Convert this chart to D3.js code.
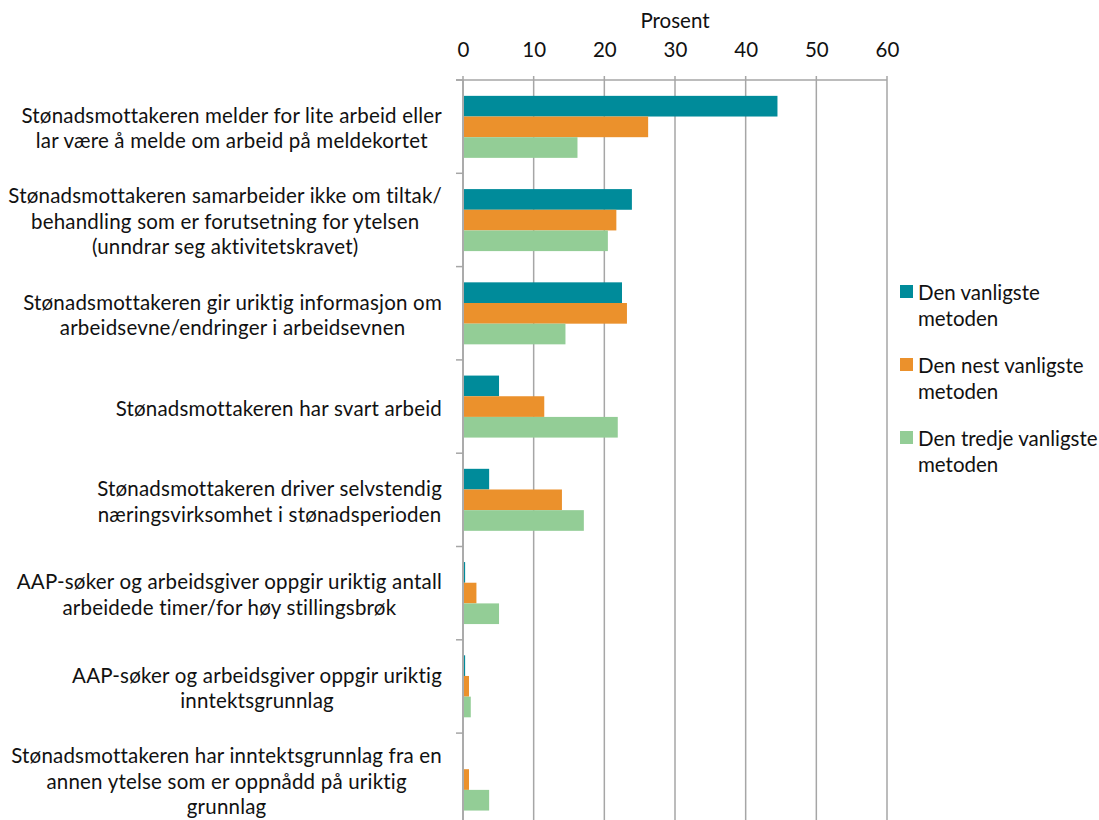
<!DOCTYPE html>
<html>
<head>
<meta charset="utf-8">
<script src="https://cdn.jsdelivr.net/npm/d3@7"></script>
<style>
  body { margin: 0; background: #fff; }
  svg text { font-family: Lato, "Open Sans", sans-serif; fill: #111; }
</style>
</head>
<body>
<svg id="chart" width="1099" height="820"></svg>
<script>
// categories, one line per array entry (as wrapped in the original)
var categories = [
  ["Stønadsmottakeren melder for lite arbeid eller", "lar være å melde om arbeid på meldekortet"],
  ["Stønadsmottakeren samarbeider ikke om tiltak/", "behandling som er forutsetning for ytelsen", "(unndrar seg aktivitetskravet)"],
  ["Stønadsmottakeren gir uriktig informasjon om", "arbeidsevne/endringer i arbeidsevnen"],
  ["Stønadsmottakeren har svart arbeid"],
  ["Stønadsmottakeren driver selvstendig", "næringsvirksomhet i stønadsperioden"],
  ["AAP-søker og arbeidsgiver oppgir uriktig antall", "arbeidede timer/for høy stillingsbrøk"],
  ["AAP-søker og arbeidsgiver oppgir uriktig", "inntektsgrunnlag"],
  ["Stønadsmottakeren har inntektsgrunnlag fra en", "annen ytelse som er oppnådd på uriktig", "grunnlag"]
];

var seriesNames = ["Den vanligste metoden", "Den nest vanligste metoden", "Den tredje vanligste metoden"];
var legendLines = [["Den vanligste", "metoden"], ["Den nest vanligste", "metoden"], ["Den tredje vanligste", "metoden"]];
var colors = ["#008B9A", "#EB912C", "#93CD96"];

var vanligste      = [44.5, 23.9, 22.5, 5.1, 3.7, 0.3, 0.3, 0.0];
var nestVanligste  = [26.2, 21.7, 23.2, 11.5, 14.0, 1.9, 0.85, 0.85];
var tredjeVanligste= [16.2, 20.5, 14.5, 21.9, 17.1, 5.1, 1.1, 3.7];

var xTicks = [0, 10, 20, 30, 40, 50, 60];

var series = [vanligste, nestVanligste, tredjeVanligste];

var svg = d3.select("#chart");
var plotL = 463, plotR = 887, plotT = 80, step = 93.3;
var fs = "20.5px";

var x = d3.scaleLinear().domain([0, 60]).range([plotL, plotR]);
var y = d3.scaleBand()
    .domain(d3.range(categories.length))
    .range([plotT, plotT + step * categories.length])
    .paddingInner(0.335)
    .paddingOuter(0.17);
var ySub = d3.scaleBand().domain(d3.range(series.length)).range([0, y.bandwidth()]);

// gridlines
svg.append("g")
  .selectAll("line")
  .data(xTicks)
  .enter().append("line")
  .attr("x1", d => x(d)).attr("x2", d => x(d))
  .attr("y1", plotT - 4).attr("y2", 820)
  .attr("stroke", "#a6a6a6").attr("stroke-width", 1.5);

// top axis
var xAxis = svg.append("g")
  .attr("transform", "translate(0," + plotT + ")")
  .call(d3.axisTop(x).tickValues(xTicks).tickSize(0).tickPadding(23));
xAxis.select(".domain").attr("stroke", "#a6a6a6").attr("stroke-width", 1.5)
  .attr("d", "M" + (plotL - 7) + ",0H" + plotR);
xAxis.selectAll("text").style("font-family", "Lato, sans-serif").style("font-size", fs).attr("fill", "#111");

svg.append("text")
  .attr("x", (plotL + plotR) / 2).attr("y", 28)
  .attr("text-anchor", "middle")
  .style("font-size", fs)
  .text("Prosent");

// left axis line and category ticks
svg.append("line")
  .attr("x1", plotL).attr("x2", plotL)
  .attr("y1", plotT).attr("y2", 820)
  .attr("stroke", "#a6a6a6").attr("stroke-width", 1.5);
svg.append("g")
  .selectAll("line")
  .data(d3.range(categories.length + 1))
  .enter().append("line")
  .attr("x1", plotL - 7).attr("x2", plotL)
  .attr("y1", i => plotT + i * step).attr("y2", i => plotT + i * step)
  .attr("stroke", "#a6a6a6").attr("stroke-width", 1.5);

// bars
series.forEach(function(vals, s) {
  svg.append("g")
    .selectAll("rect")
    .data(vals)
    .enter().append("rect")
    .attr("x", x(0) + 1)
    .attr("y", (d, i) => y(i) + ySub(s))
    .attr("width", d => Math.max(0, x(d) - x(0) - 1))
    .attr("height", ySub.bandwidth())
    .attr("fill", colors[s]);
});

// category labels: block right-aligned to the axis, lines centred within the block
var lineH = 25.5;
categories.forEach(function(lines, i) {
  var g = svg.append("g");
  var cy = plotT + i * step + step / 2;
  var texts = g.selectAll("text")
    .data(lines)
    .enter().append("text")
    .attr("text-anchor", "middle")
    .style("font-size", fs)
    .style("letter-spacing", "0.2px")
    .attr("y", (d, j) => cy + (j - (lines.length - 1) / 2) * lineH + 9)
    .text(d => d);
  var w = d3.max(texts.nodes(), n => n.getComputedTextLength());
  texts.attr("x", plotL - 21 - w / 2);
});

// legend
var legend = svg.append("g");
legendLines.forEach(function(lines, s) {
  var ly = 285 + s * 73;
  legend.append("rect")
    .attr("x", 900).attr("y", ly)
    .attr("width", 13).attr("height", 13)
    .attr("fill", colors[s]);
  legend.selectAll(null)
    .data(lines)
    .enter().append("text")
    .attr("x", 918)
    .attr("y", (d, j) => ly + 15 + j * 26)
    .style("font-size", fs)
    .text(d => d);
});
</script>
</body>
</html>
